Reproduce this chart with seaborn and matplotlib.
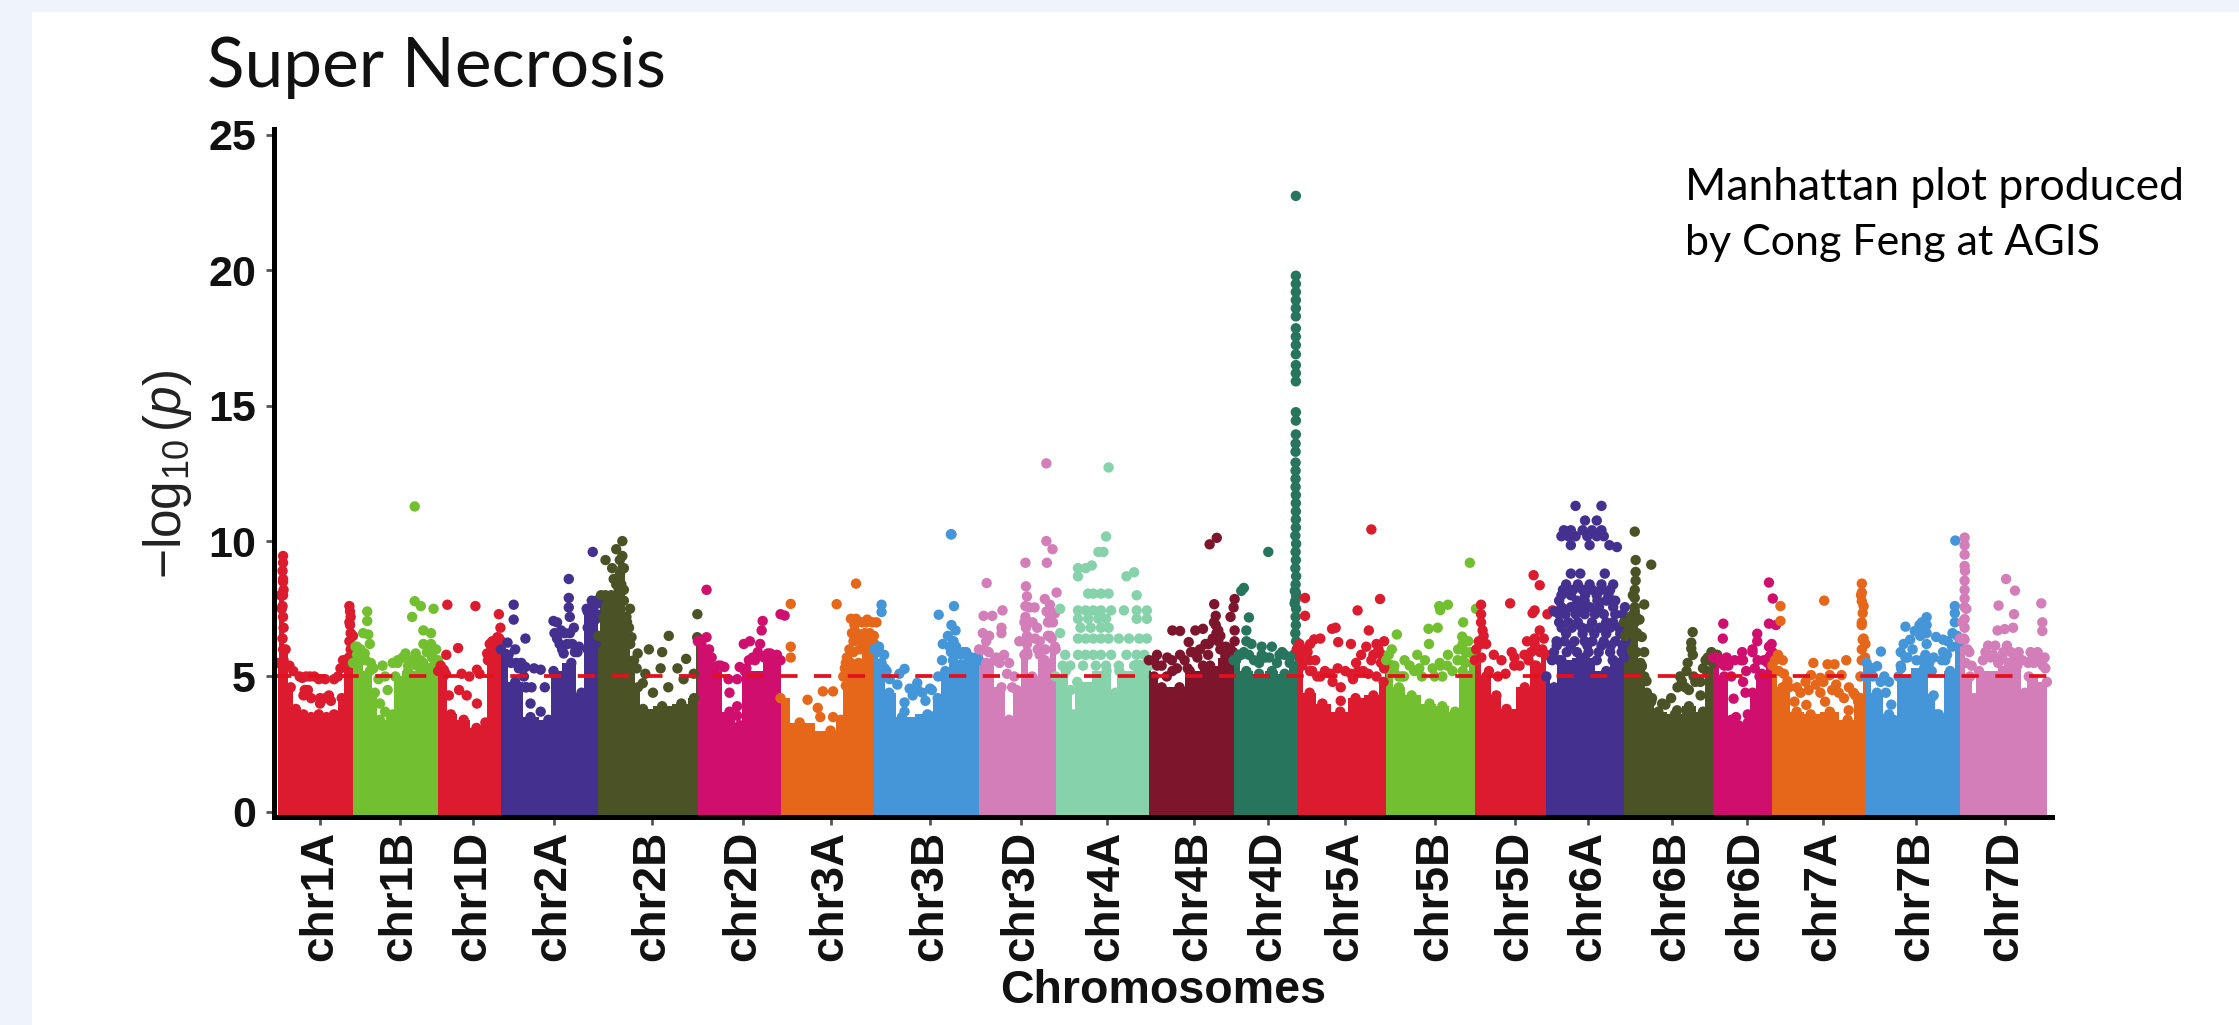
import matplotlib
matplotlib.use("Agg")
import matplotlib.pyplot as plt
from matplotlib.patches import Rectangle
import pandas as pd
import seaborn as sns

# chromosome lengths in Mb
chroms = ["chr1A", "chr1B", "chr1D", "chr2A", "chr2B", "chr2D", "chr3A", "chr3B", "chr3D", "chr4A", "chr4B",
          "chr4D", "chr5A", "chr5B", "chr5D", "chr6A", "chr6B", "chr6D", "chr7A", "chr7B", "chr7D"]
lengths = [588, 668, 492, 764, 780, 648, 736, 820, 600, 732, 664, 496, 700, 696, 560, 608, 698, 466, 729, 741, 682]
tick_pos = [329, 953, 1529, 2161, 2936, 3646, 4332, 5112, 5825, 6496, 7181, 7762, 8365, 9069, 9698, 10270, 10929,
            11513, 12114, 12843, 13540]
band_colors = ["#DC1C2E", "#72C02F", "#DC1C2E", "#43308F", "#4A5226", "#D00E6E", "#E6671A", "#4596D8", "#D37EB8",
               "#85D2AB", "#7D152C", "#27755D", "#DC1C2E", "#72C02F", "#DC1C2E", "#43308F", "#4A5226", "#D00E6E",
               "#E6671A", "#4596D8", "#D37EB8"]
y_ticks = [0, 5, 10, 15, 20, 25]

# top of the solid mass of SNPs for each chromosome, then the separate SNPs above it
chr1a_top_x = [0, 20, 40, 60, 100, 140, 200, 260, 320, 380, 440, 500, 540, 560, 588]
chr1a_top_y = [5.5, 8.0, 8.5, 6.0, 4.6, 3.8, 3.6, 3.5, 3.6, 3.5, 3.6, 4.2, 5.5, 7.0, 6.5]
chr1a_x = [40, 40, 36, 40, 44, 30, 90, 120, 170, 190, 220, 250, 285, 320, 370, 210, 235, 330, 330, 370, 260, 200, 400,
           415, 440, 470, 490, 510, 560, 565, 570, 565, 570, 560, 570, 555,
           40, 36, 40, 44, 36, 40, 44]
chr1a_y = [9.45, 9.2, 8.9, 8.6, 8.2, 7.5, 5.4, 5.2, 5.0, 4.95, 5.0, 5.0, 5.0, 4.9, 4.9, 4.5, 4.5, 4.2, 4.0, 4.2, 4.2,
           4.3, 4.3, 4.1, 4.9, 5.0, 5.3, 5.6, 7.6, 7.4, 7.2, 6.9, 6.6, 6.3, 6.0, 5.7,
           8.0, 7.6, 7.2, 6.8, 6.4, 6.0, 5.6]

chr1b_top_x = [0, 32, 132, 172, 212, 312, 332, 432, 552, 652, 668]
chr1b_top_y = [5.5, 5.8, 5.2, 4.4, 3.4, 3.6, 5.0, 5.2, 5.5, 6.0, 5.6]
chr1b_x = [484, 484, 532, 632, 464, 552, 612, 612, 552, 112, 112, 80, 120, 32, 132, 92, 312, 352, 412, 492, 232, 252,
           272, 212, 252, 432,
           20, 60, 60, 100, 140, 160, 200, 350, 390, 460, 500, 530, 580, 620, 640]
chr1b_y = [11.28, 7.78, 7.6, 7.5, 7.2, 6.7, 6.6, 6.2, 6.2, 7.4, 7.05, 6.6, 6.55, 6.1, 6.2, 5.85, 5.5, 5.6, 5.85, 5.85,
           5.4, 5.0, 4.5, 4.0, 3.7, 5.4,
           6.1, 6.0, 5.6, 5.6, 5.5, 5.3, 4.9, 5.5, 5.7, 5.6, 5.4, 5.6, 5.9, 5.7, 6.0]

chr1d_top_x = [0, 40, 100, 200, 300, 370, 390, 440, 492]
chr1d_top_y = [5.2, 5.0, 3.6, 3.4, 3.1, 3.3, 5.6, 6.2, 6.3]
chr1d_x = [72, 292, 476, 488, 64, 156, 44, 184, 244, 304, 324, 164, 224, 304, 84, 404, 464, 424, 384,
           20, 60, 420, 440, 480, 490]
chr1d_y = [7.65, 7.6, 7.3, 6.8, 5.8, 6.05, 5.25, 5.1, 5.0, 5.25, 5.1, 4.5, 4.3, 4.0, 4.3, 6.2, 6.45, 6.3, 5.85,
           5.4, 5.1, 6.0, 6.3, 6.4, 6.1]

chr2a_top_x = [0, 112, 232, 372, 412, 552, 632, 672, 764]
chr2a_top_y = [6.0, 4.8, 3.5, 3.4, 5.2, 5.5, 4.4, 7.5, 7.7]
chr2a_x = [100, 100, 192, 52, 112, 192, 312, 412, 472, 532, 532, 532, 492, 572, 612, 720, 712, 752, 712, 752, 344, 312,
           232, 192,
           60, 80, 120, 140, 160, 180, 200, 240, 260, 420, 440, 460, 480, 500, 520, 540, 560, 580, 600, 540, 440, 680,
           700, 720, 740, 680, 700, 720, 740, 720, 680]
chr2a_y = [7.65, 7.1, 6.4, 6.25, 6.0, 5.35, 5.25, 7.05, 6.7, 8.6, 7.9, 7.55, 5.85, 6.8, 6.1, 9.6, 7.8, 7.8, 7.55, 7.3,
           4.6, 3.7, 4.0, 4.6,
           5.8, 5.5, 5.5, 5.3, 5.5, 5.0, 4.6, 4.6, 5.3, 6.6, 6.4, 6.2, 6.0, 6.6, 6.2, 6.6, 6.2, 5.9, 5.9, 7.2, 7.0, 7.4,
           7.2, 7.4, 7.1, 6.8, 6.4, 6.8, 6.2, 6.0, 6.0]

chr2b_top_x = [0, 20, 100, 170, 200, 225, 270, 310, 350, 500, 650, 750, 780]
chr2b_top_y = [6.5, 8.0, 8.0, 8.8, 9.0, 7.0, 5.4, 4.6, 3.8, 3.9, 4.0, 4.2, 6.4]
chr2b_x = [188, 140, 188, 56, 168, 188, 108, 56, 168, 248, 260, 308, 396, 500, 552, 688, 620, 488, 368, 776, 775, 428,
           348, 548, 668, 748, 228,
           120, 140, 160, 180, 200, 200, 60, 80, 40, 60, 220, 240, 250, 280, 300]
chr2b_y = [10.0, 9.7, 9.45, 9.3, 9.3, 9.0, 9.0, 8.0, 8.6, 7.5, 6.45, 5.85, 6.0, 5.9, 6.5, 5.65, 5.3, 5.3, 5.1, 7.3,
           6.45, 4.4, 4.75, 4.6, 4.9, 5.1, 5.6,
           8.6, 8.4, 8.2, 8.4, 8.2, 7.8, 7.6, 7.8, 7.2, 6.8, 7.2, 6.8, 6.2, 5.6, 5.3]

chr2d_top_x = [0, 88, 128, 248, 328, 368, 648]
chr2d_top_y = [6.3, 6.0, 5.2, 3.7, 3.2, 5.2, 5.6]
chr2d_x = [68, 68, 28, 108, 128, 208, 248, 308, 308, 360, 408, 488, 508, 500, 548, 648, 680, 568, 328, 448, 608, 308,
           20, 50, 90, 160, 180, 240, 400, 430, 470, 520, 560, 600, 620, 380]
chr2d_y = [8.2, 6.45, 6.2, 5.7, 5.35, 5.35, 4.4, 3.9, 3.55, 6.2, 6.3, 6.2, 7.05, 6.7, 5.85, 7.3, 7.25, 5.85, 5.35, 5.6,
           5.7, 4.9,
           6.3, 6.0, 5.7, 5.4, 5.4, 4.9, 5.6, 5.7, 5.9, 5.7, 5.5, 5.6, 5.8, 5.3]

chr3a_top_x = [0, 150, 392, 472, 512, 612, 672, 736]
chr3a_top_y = [4.2, 3.3, 3.0, 3.4, 5.5, 5.5, 6.4, 6.2]
chr3a_x = [592, 440, 80, 80, 80, 212, 292, 412, 332, 412, 312, 492, 512, 552, 592, 672, 752, 572, 632, 712, 572, 672,
           732, 632, 612, 552, 504,
           520, 540, 560, 580, 600, 620, 640, 660, 680, 700, 720]
chr3a_y = [8.43, 7.67, 7.68, 6.1, 5.7, 4.14, 3.84, 4.45, 4.45, 3.5, 3.5, 5.0, 4.66, 7.13, 7.13, 7.0, 7.0, 6.3, 6.3, 6.3,
           5.9, 6.1, 6.5, 4.6, 5.3, 5.5, 5.3,
           5.7, 6.0, 6.6, 6.9, 6.6, 6.0, 7.0, 6.6, 7.1, 6.6, 7.0]

chr3b_top_x = [0, 56, 116, 216, 416, 496, 556, 616, 820]
chr3b_top_y = [6.0, 5.5, 4.4, 3.5, 3.6, 4.2, 5.2, 5.6, 5.6]
chr3b_x = [604, 600, 56, 56, 504, 624, 604, 636, 616, 576, 536, 656, 696, 736, 776, 796, 76, 36, 96, 236, 196, 336, 276,
           436, 236, 236, 116, 488, 376,
           590, 600, 640, 620, 680, 720, 760, 40, 80, 120, 180, 300, 340, 400, 450, 500, 530]
chr3b_y = [10.25, 10.25, 7.65, 7.38, 7.28, 7.6, 6.9, 6.7, 6.3, 6.5, 6.2, 5.9, 5.9, 5.7, 5.6, 5.7, 5.8, 6.1, 5.2, 5.28,
           5.1, 4.76, 4.55, 4.55, 4.04, 3.7, 3.9, 3.6, 4.4,
           6.1, 5.9, 6.1, 6.3, 5.8, 5.9, 5.7, 5.9, 5.3, 4.9, 4.7, 4.3, 4.5, 4.1, 4.5, 5.0, 5.6]

chr3d_top_x = [0, 56, 176, 236, 296, 356, 416, 516, 600]
chr3d_top_y = [6.0, 5.5, 4.6, 3.4, 4.5, 5.8, 5.0, 5.6, 6.0]
chr3d_x = [528, 528, 576, 532, 364, 60, 368, 36, 104, 184, 176, 176, 376, 396, 436, 516, 608, 556, 596, 556, 456, 356,
           376, 476, 556, 56, 76, 596, 376, 476, 136, 196, 236, 316, 276,
           364, 364, 368, 376, 380, 420, 440, 460, 530, 540, 560, 580, 540, 570, 520, 590, 30, 40, 80, 120, 160, 220,
           260]
chr3d_y = [12.87, 10.0, 9.7, 9.2, 9.2, 8.45, 8.33, 7.24, 7.24, 7.44, 6.8, 6.6, 7.96, 7.55, 7.55, 7.86, 8.1, 7.65, 7.34,
           7.0, 6.8, 7.0, 6.5, 6.3, 6.5, 6.3, 5.9, 6.1, 5.9, 5.8, 5.7, 5.8, 5.5, 6.3, 5.0,
           7.6, 7.2, 6.8, 6.2, 5.8, 7.0, 6.4, 6.0, 7.4, 7.0, 7.2, 7.0, 6.5, 6.4, 6.0, 6.0, 6.6, 6.0, 6.5, 5.6, 5.5, 5.1,
           4.6]

chr4a_top_x = [0, 80, 120, 140, 170, 400, 470, 500, 732]
chr4a_top_y = [5.0, 5.2, 4.5, 3.6, 4.8, 5.2, 4.4, 5.2, 5.6]
chr4a_x = [416, 396, 376, 336, 284, 236, 176, 176, 616, 556, 36, 636,
           256, 296, 356, 416,
           176, 236, 296, 356, 436, 536, 636, 716,
           176, 256, 336, 396, 636, 716,
           196, 276, 356, 416,
           176, 236, 296, 356, 416, 496, 576, 656, 716,
           76, 176, 236, 296, 356, 436, 556, 636, 696,
           56, 116, 216, 316, 396, 496, 616, 736, 36]
chr4a_y = [12.72, 10.17, 9.6, 9.6, 9.1, 9.0, 9.0, 8.7, 8.85, 8.7, 7.5, 8.0,
           8.06, 8.06, 8.06, 8.06,
           7.44, 7.44, 7.44, 7.44, 7.44, 7.44, 7.44, 7.44,
           7.13, 7.13, 7.13, 7.13, 7.13, 7.13,
           6.8, 6.8, 6.8, 6.8,
           6.4, 6.4, 6.4, 6.4, 6.4, 6.4, 6.4, 6.4, 6.4,
           5.8, 5.8, 5.8, 5.8, 5.8, 5.8, 5.8, 5.8, 5.8,
           5.4, 5.4, 5.4, 5.4, 5.4, 5.4, 5.4, 5.4, 6.6]

chr4b_top_x = [0, 40, 100, 240, 320, 480, 600, 664]
chr4b_top_y = [5.6, 5.0, 4.6, 4.6, 5.2, 5.4, 5.7, 5.6]
chr4b_x = [532, 476, 512, 672, 664, 524, 524, 184, 244, 364, 424, 544, 672, 672, 312, 444, 544, 604, 64, 144, 244, 344,
           464, 64, 184, 304, 424, 624, 510, 560, 640,
           40, 100, 140, 180, 220, 280, 330, 380, 400, 470, 500, 530, 560, 600, 640, 660]
chr4b_y = [10.12, 9.88, 7.67, 7.86, 7.55, 7.24, 6.9, 6.7, 6.68, 6.7, 6.76, 6.7, 6.7, 6.3, 6.27, 6.2, 6.3, 6.1, 5.8, 5.7,
           5.8, 5.9, 5.8, 5.4, 5.2, 5.3, 5.4, 5.5, 7.0, 6.5, 7.2,
           5.6, 5.4, 5.0, 5.6, 5.3, 5.6, 5.9, 5.7, 6.0, 6.2, 6.4, 6.6, 6.0, 5.8, 6.0, 5.9]

chr4d_top_x = [0, 100, 200, 300, 400, 470, 490, 496]
chr4d_top_y = [5.6, 5.2, 5.1, 5.2, 5.1, 5.4, 8.0, 6.0]
chr4d_x = [488, 488, 488, 488, 488, 488, 488, 488, 488, 488, 488, 488, 488, 488, 488, 488, 488, 486, 486, 486, 486,
           486, 486, 488, 488, 488, 488, 488, 484, 490, 486, 488, 484, 490, 486, 488, 484, 490, 486, 488, 484, 490,
           272, 80, 60, 120, 100, 100, 140, 220, 300, 380, 280, 220, 120, 40, 400, 480, 478,
           20, 60, 80, 160, 200, 250, 340, 360, 440, 470]
chr4d_y = [22.75, 19.8, 19.5, 19.2, 18.9, 18.6, 18.3, 17.86, 17.55, 17.24, 16.9, 16.5, 16.2, 15.9, 14.76, 14.45, 13.94,
           13.6, 13.3, 12.9, 12.6, 12.3, 12.0, 11.7, 11.4, 11.1, 10.8, 10.5, 10.2, 9.9, 9.6, 9.3, 9.0, 8.7, 8.4, 8.1,
           7.8, 7.5, 7.2, 6.9, 6.6, 6.3,
           9.6, 8.27, 8.16, 7.18, 6.7, 6.3, 6.2, 6.1, 6.1, 5.9, 5.7, 5.8, 5.8, 5.8, 5.8, 8.16, 7.7,
           5.6, 5.8, 5.9, 5.6, 5.5, 5.7, 5.5, 5.8, 5.5, 5.8]

chr5a_top_x = [0, 100, 200, 340, 460, 600, 680, 700]
chr5a_top_y = [6.0, 4.4, 4.0, 3.7, 4.2, 4.3, 4.8, 5.4]
chr5a_x = [584, 652, 64, 64, 476, 564, 304, 276, 136, 184, 104, 84, 324, 424, 544, 684, 624, 664, 504, 584, 464, 144,
           44, 104, 184, 264, 344, 424, 624, 684, 344,
           30, 70, 120, 160, 220, 280, 320, 380, 440, 480, 520, 560, 600, 640, 660, 20, 100]
chr5a_y = [10.43, 7.86, 7.9, 7.24, 7.44, 6.7, 6.8, 6.76, 6.37, 6.4, 6.2, 5.9, 6.27, 6.2, 6.1, 6.3, 6.2, 5.8, 5.8, 5.6,
           5.5, 5.6, 5.4, 5.2, 5.0, 5.1, 4.6, 5.1, 5.0, 5.3, 4.1,
           5.7, 6.0, 5.2, 5.0, 5.2, 4.8, 5.3, 5.2, 4.9, 5.2, 5.2, 5.1, 5.8, 6.0, 5.5, 6.2, 5.6]

chr5b_top_x = [0, 100, 200, 340, 440, 540, 600, 696]
chr5b_top_y = [5.6, 4.6, 4.3, 4.0, 3.9, 3.7, 5.2, 5.6]
chr5b_x = [656, 416, 484, 424, 704, 332, 404, 604, 596, 644, 84, 44, 336, 144, 244, 304, 484, 564, 424, 624, 64, 184,
           364, 604, 124,
           20, 60, 100, 140, 220, 260, 280, 380, 420, 440, 480, 520, 560, 600, 620, 660, 680]
chr5b_y = [9.2, 7.6, 7.65, 7.45, 7.5, 6.76, 6.8, 7.0, 6.47, 6.3, 6.55, 6.0, 6.2, 5.6, 5.8, 5.6, 5.8, 6.0, 5.4, 5.9, 5.4,
           5.4, 5.3, 5.6, 5.0,
           5.8, 5.2, 5.0, 5.0, 5.2, 5.3, 5.0, 5.0, 5.5, 5.0, 5.4, 5.2, 5.6, 6.2, 5.5, 5.9, 5.8]

chr5d_top_x = [0, 88, 168, 248, 390, 480, 560]
chr5d_top_y = [5.6, 5.0, 4.3, 3.8, 4.6, 5.4, 5.8]
chr5d_x = [460, 508, 276, 48, 48, 48, 60, 468, 452, 608, 568, 508, 468, 408, 388, 88, 148, 288, 208, 308, 468, 528, 68,
           10, 30, 48, 50, 110, 180, 240, 310, 350, 420, 440, 480, 510, 540, 470]
chr5d_y = [8.74, 8.37, 7.7, 7.65, 7.3, 7.0, 6.7, 7.44, 7.34, 7.44, 7.3, 6.7, 6.4, 6.3, 5.8, 6.2, 5.8, 5.9, 5.6, 5.4,
           6.2, 6.0, 6.5,
           6.0, 6.3, 6.2, 5.7, 5.2, 5.0, 5.1, 5.7, 5.4, 5.6, 5.9, 6.0, 5.9, 6.4, 5.4]

chr6a_top_x = [0, 60, 100, 300, 470, 520, 608]
chr6a_top_y = [5.0, 4.6, 5.6, 5.7, 5.2, 5.6, 5.7]
chr6a_x = [229, 432,
           303, 395,
           137, 192, 284, 358, 432,
           118, 173, 229, 321, 395, 450,
           192, 339, 494, 553,
           192, 266, 458,
           155, 247, 339, 432, 524,
           118, 192, 303, 395, 487,
           118, 192, 266, 339, 413, 524, 616,
           100, 173, 247, 358, 469, 524,
           155, 284, 376, 469, 579,
           81, 192, 321, 432, 505, 598,
           44, 118, 266, 395, 524, 63,
           130, 210, 285, 360, 430, 500,
           100, 240, 300, 400, 470, 540,
           100, 150, 230, 300, 380, 450, 540, 600,
           120, 200, 280, 340, 420, 500, 570,
           80, 140, 220, 300, 360, 450, 540, 620,
           60, 160, 240, 330, 410, 500, 590]
chr6a_y = [11.3, 11.3,
           10.76, 10.76,
           10.4, 10.4, 10.4, 10.4, 10.4,
           10.18, 10.18, 10.18, 10.18, 10.18, 10.18,
           9.85, 9.85, 9.85, 9.78,
           8.8, 8.8, 8.8,
           8.4, 8.4, 8.4, 8.4, 8.4,
           8.0, 8.0, 8.0, 8.0, 8.0,
           7.56, 7.56, 7.56, 7.56, 7.56, 7.56, 7.56,
           7.0, 7.0, 7.0, 7.0, 7.0, 7.0,
           6.58, 6.58, 6.58, 6.58, 6.58,
           6.14, 6.14, 6.14, 6.14, 6.14, 6.14,
           5.6, 5.6, 5.6, 5.6, 5.6, 7.4,
           8.2, 8.2, 8.2, 8.2, 8.2, 8.2,
           7.8, 7.8, 7.8, 7.8, 7.8, 7.8,
           7.3, 7.3, 7.3, 7.3, 7.3, 7.3, 7.3, 7.3,
           6.8, 6.8, 6.8, 6.8, 6.8, 6.8, 6.8,
           6.3, 6.3, 6.3, 6.3, 6.3, 6.3, 6.3, 6.3,
           5.9, 5.9, 5.9, 5.9, 5.9, 5.9, 5.9]

chr6b_top_x = [0, 85, 140, 195, 270, 400, 510, 620, 650, 698]
chr6b_top_y = [7.0, 7.4, 5.4, 4.2, 3.7, 3.6, 3.9, 3.7, 5.2, 5.5]
chr6b_x = [85, 92, 214, 92, 92, 85, 85, 85, 159, 122, 85, 140, 103, 159, 140, 177, 539, 528, 528, 686, 657, 731, 491,
           454, 546, 620, 214, 325, 417, 509, 601, 11, 30,
           10, 50, 70, 95, 120, 100, 130, 160, 180, 220, 300, 370, 420, 440, 480, 500, 540, 560, 600, 640, 670]
chr6b_y = [10.35, 9.3, 9.13, 8.86, 8.54, 8.2, 7.9, 7.56, 7.66, 7.1, 7.0, 6.46, 6.6, 5.9, 5.37, 4.83, 6.64, 6.03, 6.25,
           5.9, 5.7, 5.8, 5.2, 4.83, 5.0, 5.3, 4.07, 3.96, 3.75, 4.5, 4.3, 7.0, 6.6,
           6.5, 7.2, 8.0, 7.2, 6.5, 5.9, 5.5, 5.0, 4.4, 4.2, 4.0, 4.2, 4.6, 5.0, 4.6, 5.5, 5.8, 4.8, 4.8, 5.6, 5.6]

chr6d_top_x = [0, 88, 144, 200, 274, 310, 365, 466]
chr6d_top_y = [5.7, 5.0, 3.4, 3.2, 3.3, 4.4, 5.0, 5.9]
chr6d_x = [439, 469, 81, 77, 439, 494, 347, 347, 229, 310, 107, 89, 236, 439, 439, 162, 181, 273, 236, 328, 384, 144,
           255,
           30, 60, 120, 170, 220, 260, 310, 350, 400, 430, 460]
chr6d_y = [8.47, 7.88, 6.95, 6.4, 6.95, 6.9, 6.58, 6.3, 5.9, 6.0, 5.7, 5.4, 5.6, 6.1, 5.7, 4.18, 3.5, 3.6, 4.8, 5.3, 5.1,
           5.0, 4.4,
           5.7, 5.5, 5.4, 5.6, 5.6, 5.2, 5.9, 5.6, 5.6, 5.5, 6.2]

chr7a_top_x = [0, 80, 190, 300, 450, 590, 690, 729]
chr7a_top_y = [5.4, 4.6, 3.7, 3.6, 3.7, 3.4, 4.2, 6.2]
chr7a_x = [63, 63, 406, 701, 701, 701, 708, 701, 708, 701, 727, 44, 81, 118, 192, 321, 432, 487, 579, 303, 376, 450, 542,
           284, 376, 469, 561, 635, 173, 266, 413, 598, 672,
           20, 50, 90, 130, 220, 260, 340, 400, 500, 520, 600, 650, 690, 700, 715, 700, 715, 695]
chr7a_y = [7.6, 7.05, 7.8, 8.43, 8.1, 7.78, 7.34, 7.0, 6.36, 6.0, 5.7, 5.8, 5.6, 4.83, 4.6, 5.5, 5.45, 5.45, 5.6, 5.05,
           4.95, 5.05, 5.05, 4.5, 4.4, 4.5, 4.2, 4.4, 4.07, 3.95, 4.07, 3.75, 4.07,
           5.6, 5.2, 5.1, 4.6, 4.4, 4.8, 4.7, 4.8, 4.7, 4.4, 4.6, 4.3, 5.0, 5.6, 6.4, 6.9, 7.6, 8.0]

chr7b_top_x = [0, 90, 185, 240, 260, 460, 515, 575, 664, 741]
chr7b_top_y = [5.0, 4.4, 3.6, 3.2, 5.0, 5.3, 4.2, 3.6, 5.2, 6.3]
chr7b_x = [705, 122, 92, 314, 387, 424, 480, 443, 480, 480, 277, 314, 351, 480, 554, 609, 646, 701, 701, 701, 683, 609,
           627, 535, 443, 203, 221, 535, 554, 185, 148, 55, 277,
           10, 30, 60, 120, 160, 280, 300, 330, 370, 400, 430, 460, 470, 500, 520, 600, 640, 680, 720]
chr7b_y = [10.02, 5.92, 5.38, 6.84, 6.68, 6.9, 7.19, 7.0, 6.9, 6.6, 5.9, 5.7, 6.36, 6.2, 6.46, 6.36, 6.3, 7.6, 7.34,
           7.0, 6.6, 5.9, 5.6, 5.7, 5.6, 3.96, 3.4, 4.3, 3.6, 4.8, 5.0, 5.3, 5.4,
           5.5, 5.2, 5.0, 4.8, 4.4, 5.3, 6.2, 5.7, 6.0, 5.6, 6.5, 6.6, 5.8, 5.5, 5.2, 5.6, 5.8, 6.1, 6.5]

chr7d_top_x = [0, 80, 110, 150, 450, 510, 540, 682]
chr7d_top_y = [6.4, 5.0, 4.2, 5.2, 5.4, 4.4, 5.0, 4.8]
chr7d_x = [37, 37, 37, 37, 37, 37, 37, 37, 37, 37, 37, 362, 432, 303, 424, 351, 295, 417, 638, 646, 646, 221, 277, 369,
           461, 554, 609, 240, 332, 424, 535, 664, 74, 92,
           20, 50, 30, 60, 40, 45, 180, 200, 260, 300, 340, 380, 400, 470, 490, 560, 580, 600, 630, 650, 670]
chr7d_y = [10.13, 9.85, 9.5, 9.08, 8.54, 8.2, 7.88, 7.56, 7.12, 6.8, 6.36, 8.6, 8.17, 7.62, 7.3, 6.75, 6.7, 6.8, 7.7,
           7.0, 6.68, 6.14, 6.14, 6.14, 5.9, 5.9, 5.9, 5.7, 5.7, 5.6, 5.5, 5.7, 5.9, 5.4,
           7.0, 7.5, 6.4, 6.0, 8.9, 5.5, 5.6, 5.9, 5.8, 5.5, 5.9, 5.5, 5.9, 5.6, 5.6, 5.6, 5.5, 5.6, 5.6, 5.4, 5.3]

top_x = [chr1a_top_x, chr1b_top_x, chr1d_top_x, chr2a_top_x, chr2b_top_x, chr2d_top_x, chr3a_top_x, chr3b_top_x,
         chr3d_top_x, chr4a_top_x, chr4b_top_x, chr4d_top_x, chr5a_top_x, chr5b_top_x, chr5d_top_x, chr6a_top_x,
         chr6b_top_x, chr6d_top_x, chr7a_top_x, chr7b_top_x, chr7d_top_x]
top_y = [chr1a_top_y, chr1b_top_y, chr1d_top_y, chr2a_top_y, chr2b_top_y, chr2d_top_y, chr3a_top_y, chr3b_top_y,
         chr3d_top_y, chr4a_top_y, chr4b_top_y, chr4d_top_y, chr5a_top_y, chr5b_top_y, chr5d_top_y, chr6a_top_y,
         chr6b_top_y, chr6d_top_y, chr7a_top_y, chr7b_top_y, chr7d_top_y]
dot_x = [chr1a_x, chr1b_x, chr1d_x, chr2a_x, chr2b_x, chr2d_x, chr3a_x, chr3b_x, chr3d_x, chr4a_x, chr4b_x, chr4d_x,
         chr5a_x, chr5b_x, chr5d_x, chr6a_x, chr6b_x, chr6d_x, chr7a_x, chr7b_x, chr7d_x]
dot_y = [chr1a_y, chr1b_y, chr1d_y, chr2a_y, chr2b_y, chr2d_y, chr3a_y, chr3b_y, chr3d_y, chr4a_y, chr4b_y, chr4d_y,
         chr5a_y, chr5b_y, chr5d_y, chr6a_y, chr6b_y, chr6d_y, chr7a_y, chr7b_y, chr7d_y]

W, H = 2239, 1025
Y_BOTTOM = -0.19
sns.set_theme(style="white")
plt.rcParams["font.family"] = ["Liberation Sans", "DejaVu Sans"]
plt.rcParams["mathtext.fontset"] = "custom"
plt.rcParams["mathtext.rm"] = "Liberation Sans"
plt.rcParams["mathtext.it"] = "Liberation Sans:italic"

fig = plt.figure(figsize=(W / 100, H / 100), dpi=100, facecolor="white")
# light blue page strip on the left and on top
fig.patches.append(Rectangle((0, 0), 32 / W, 1, transform=fig.transFigure, color="#EEF3FC", lw=0))
fig.patches.append(Rectangle((0, 1 - 12 / H), 1, 12 / H, transform=fig.transFigure, color="#EEF3FC", lw=0))

ax = fig.add_axes([274 / W, 1 - 817 / H, (2052 - 274) / W, (817 - 129) / H])
ax.set_facecolor("none")

rows = []
offset = 0
for i, name in enumerate(chroms):
    xs = [offset + x for x in top_x[i]]
    ax.fill_between(xs, Y_BOTTOM, top_y[i], step="mid", color=band_colors[i], lw=0, zorder=2)
    # the band is cut off square at both ends
    ax.fill_between([offset, offset + lengths[i]], Y_BOTTOM, 3, color=band_colors[i], lw=0, zorder=2)
    for x, y in zip(top_x[i], top_y[i]):
        rows.append((name, offset + x, y))
    for x, y in zip(dot_x[i], dot_y[i]):
        rows.append((name, offset + x, y))
    offset += lengths[i]
df = pd.DataFrame(rows, columns=["chrom", "pos", "logp"])

sns.scatterplot(data=df, x="pos", y="logp", hue="chrom", hue_order=chroms,
                palette=dict(zip(chroms[::-1], band_colors[::-1])), s=56, linewidth=0, legend=False,
                ax=ax, zorder=3)

ax.axhline(5, color="#E3101E", lw=2.7, ls=(0, (4.6, 4.4)), zorder=4)

ax.set_xlim(-31, 13908)
ax.set_ylim(Y_BOTTOM, 25.22)
ax.set_xticks(tick_pos)
ax.set_xticklabels(chroms, rotation=90, fontsize=33, fontweight="bold", color="#111111")
ax.set_yticks(y_ticks)
ax.set_yticklabels(y_ticks, fontsize=31, fontweight="bold", color="#111111")
ax.tick_params(axis="x", length=6, width=2, color="#555555", pad=4, bottom=True)
ax.tick_params(axis="y", length=6, width=2, color="#555555", pad=7, left=True)
ax.set_xlabel("")
ax.set_ylabel("")
sns.despine(ax=ax)
for side in ["left", "bottom"]:
    ax.spines[side].set_linewidth(3.6)
    ax.spines[side].set_color("black")
    ax.spines[side].set_zorder(5)

fig.text(167 / W, 1 - 474 / H, r"$-\log_{10}(p)$", rotation=90, fontsize=37, color="#222222", ha="center", va="center")
fig.text(1163 / W, 1 - 1003 / H, "Chromosomes", fontsize=33.5, fontweight="bold", color="#111111", ha="center",
         va="baseline")
fig.text(207 / W, 1 - 87 / H, "Super Necrosis", fontsize=50, family="Lato", color="#111111", va="baseline")
fig.text(1685 / W, 1 - 200 / H, "Manhattan plot produced", fontsize=32, family="Lato", color="black", va="baseline")
fig.text(1685 / W, 1 - 255 / H, "by Cong Feng at AGIS", fontsize=31, family="Lato", color="black", va="baseline")

fig.savefig("out.png", dpi=100)
